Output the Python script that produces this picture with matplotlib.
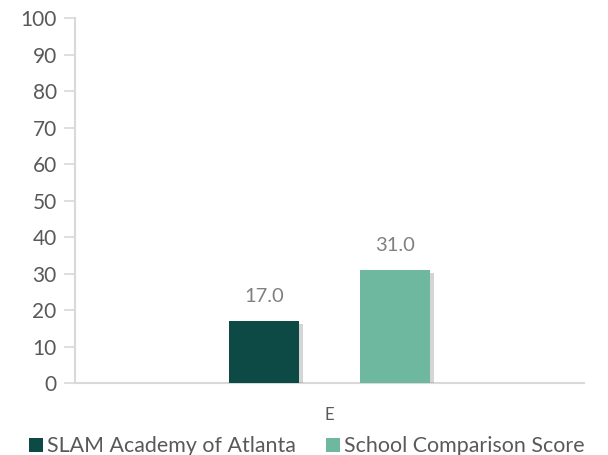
import matplotlib
matplotlib.use("Agg")
import matplotlib.pyplot as plt
import matplotlib.patheffects as pe
from matplotlib.patches import Patch
import numpy as np

plt.rcParams['font.family'] = ['Lato', 'DejaVu Sans']

category = ["E"]
series_names = ["SLAM Academy of Atlanta", "School Comparison Score"]
series_values = [17.0, 31.0]
colors = ["#0E4A45", "#6DB89E"]

fig = plt.figure(figsize=(6.08, 4.55), dpi=100)
ax = fig.add_axes([0.123, 0.158, 0.838, 0.802])

width = 0.1375
offsets = [-0.1287, 0.1287]
shadow = [pe.SimplePatchShadow(offset=(3, -2), shadow_rgbFace="#888888", alpha=0.35), pe.Normal()]
for name, val, col, off in zip(series_names, series_values, colors, offsets):
    b = ax.bar(off, val, width=width, color=col, zorder=3)
    b[0].set_path_effects(shadow)
    ax.text(off, val + 4.3, f"{val:.1f}", ha="center", va="bottom",
            color="#808080", fontsize=14.5)

ax.set_xlim(-0.5, 0.5)
ax.set_ylim(0, 100)
ax.set_yticks(np.arange(0, 101, 10))
ax.set_xticks([0])
ax.set_xticklabels(category)
ax.tick_params(axis="y", colors="#D9D9D9", labelcolor="#595959", labelsize=15, length=8, width=1.2, pad=5)
ax.tick_params(axis="x", length=0, labelcolor="#595959", labelsize=12, pad=17)
for s in ["top", "right"]:
    ax.spines[s].set_visible(False)
for s in ["left", "bottom"]:
    ax.spines[s].set_color("#D9D9D9")
    ax.spines[s].set_linewidth(1.5)

handles = [Patch(facecolor=c, label=n) for c, n in zip(colors, series_names)]
fig.legend(handles=handles, loc="lower center", bbox_to_anchor=(0.505, -0.045), ncol=2, frameon=False,
           fontsize=15.4, handlelength=0.65, handleheight=0.65, handletextpad=0.2,
           columnspacing=1.4, labelcolor="#595959")

fig.savefig("out.png", dpi=100)
